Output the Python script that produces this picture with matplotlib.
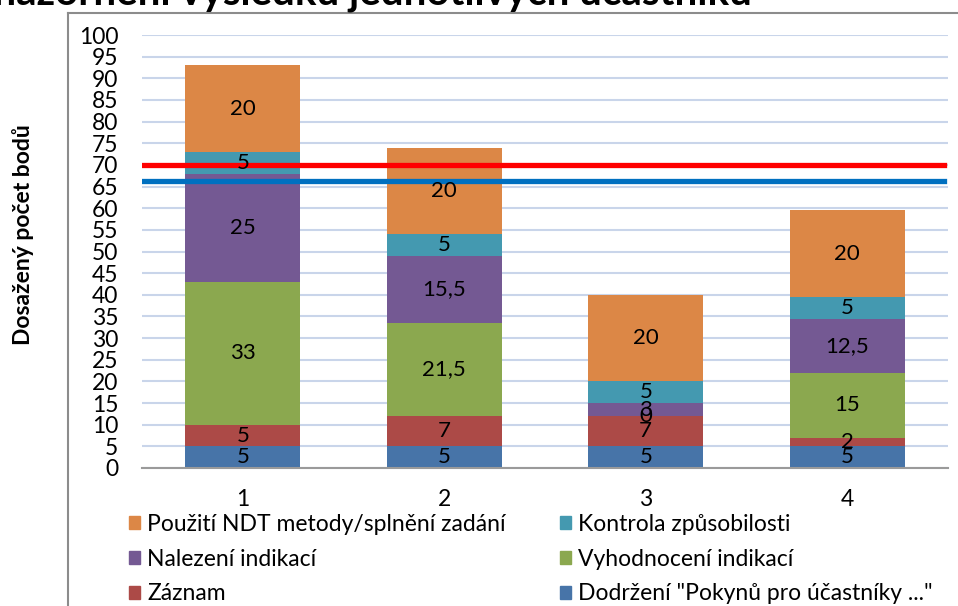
import numpy as np
import matplotlib
matplotlib.use("Agg")
import matplotlib.pyplot as plt
from matplotlib.lines import Line2D
from matplotlib.patches import Patch

plt.rcParams['font.family'] = ['Lato', 'DejaVu Sans']

# data
participants = ["1", "2", "3", "4"]
series_names = ['Dodržení "Pokynů pro účastníky ..."', "Záznam", "Vyhodnocení indikací",
                "Nalezení indikací", "Kontrola způsobilosti", "Použití NDT metody/splnění zadání"]
dodrzeni = [5, 5, 5, 5]
zaznam = [5, 7, 7, 2]
vyhodnoceni = [33, 21.5, 0, 15]
nalezeni = [25, 15.5, 3, 12.5]
kontrola = [5, 5, 5, 5]
pouziti = [20, 20, 20, 20]
limit_red = 70
limit_blue = 66.3

colors = ["#4774A8", "#AC4A47", "#8BA84F", "#745993", "#4499B0", "#DC8746"]

fig = plt.figure(figsize=(9.58, 6.06), dpi=100)
ax = fig.add_axes([142/958, 1 - 468/606, 806/958, 433/606])

x = np.arange(len(participants))
bottom = np.zeros(len(participants))
for vals, name, col in zip([dodrzeni, zaznam, vyhodnoceni, nalezeni, kontrola, pouziti],
                           series_names, colors):
    vals = np.array(vals, dtype=float)
    ax.bar(x, vals, width=0.57, bottom=bottom, color=col, label=name, zorder=2)
    for xi, b, v in zip(x, bottom, vals):
        ax.text(xi, b + v / 2, f"{v:g}".replace(".", ","), ha="center", va="center",
                fontsize=16, color="black", zorder=4)
    bottom += vals

ax.axhline(limit_red, color="#FF0000", lw=3.8, zorder=3, xmax=0.995)
ax.axhline(limit_blue, color="#0070C0", lw=3.8, zorder=3, xmax=0.995)

ax.set_xlim(-0.5, 3.5)
ax.set_ylim(0, 100)
ax.set_yticks(np.arange(0, 101, 5))
ax.set_xticks(x)
ax.set_xticklabels(participants)
ax.tick_params(axis="both", length=0, labelsize=16.5)
ax.tick_params(axis="y", pad=17)
ax.tick_params(axis="x", pad=15)
ax.grid(axis="y", color="#C9D5EA", lw=1.5, zorder=0)
for s in ["top", "right", "left"]:
    ax.spines[s].set_visible(False)
ax.spines["bottom"].set_color("#9A9A9A")
ax.spines["bottom"].set_linewidth(1.5)

fig.text(23/958, 1 - 235/606, "Dosažený počet bodů", rotation=90, ha="center", va="center",
         fontsize=16.5, fontweight="bold")
fig.text(752/958, 1 - 5/606, "Znázornění výsledků jednotlivých účastníků", ha="right",
         va="baseline", fontsize=29, fontweight="bold")

# chart border
fig.add_artist(Line2D([68/958, 68/958], [0, 1 - 13/606], color="#8C8C8C", lw=1.5))
fig.add_artist(Line2D([68/958, 1], [1 - 13/606, 1 - 13/606], color="#8C8C8C", lw=1.5))

# legend in two columns, row-wise order as in the chart
leg_kw = dict(loc="upper left", frameon=False, fontsize=16.5, handlelength=0.5,
              handleheight=0.5, handletextpad=0.3, labelspacing=0.6,
              borderaxespad=0, borderpad=0)
col1 = [5, 3, 1]
col2 = [4, 2, 0]
leg1 = fig.legend(handles=[Patch(color=colors[i], label=series_names[i]) for i in col1],
                  bbox_to_anchor=(129/958, 1 - 514/606), **leg_kw)
leg2 = fig.legend(handles=[Patch(color=colors[i], label=series_names[i]) for i in col2],
                  bbox_to_anchor=(560/958, 1 - 514/606), **leg_kw)

fig.savefig("out.png", dpi=100)
